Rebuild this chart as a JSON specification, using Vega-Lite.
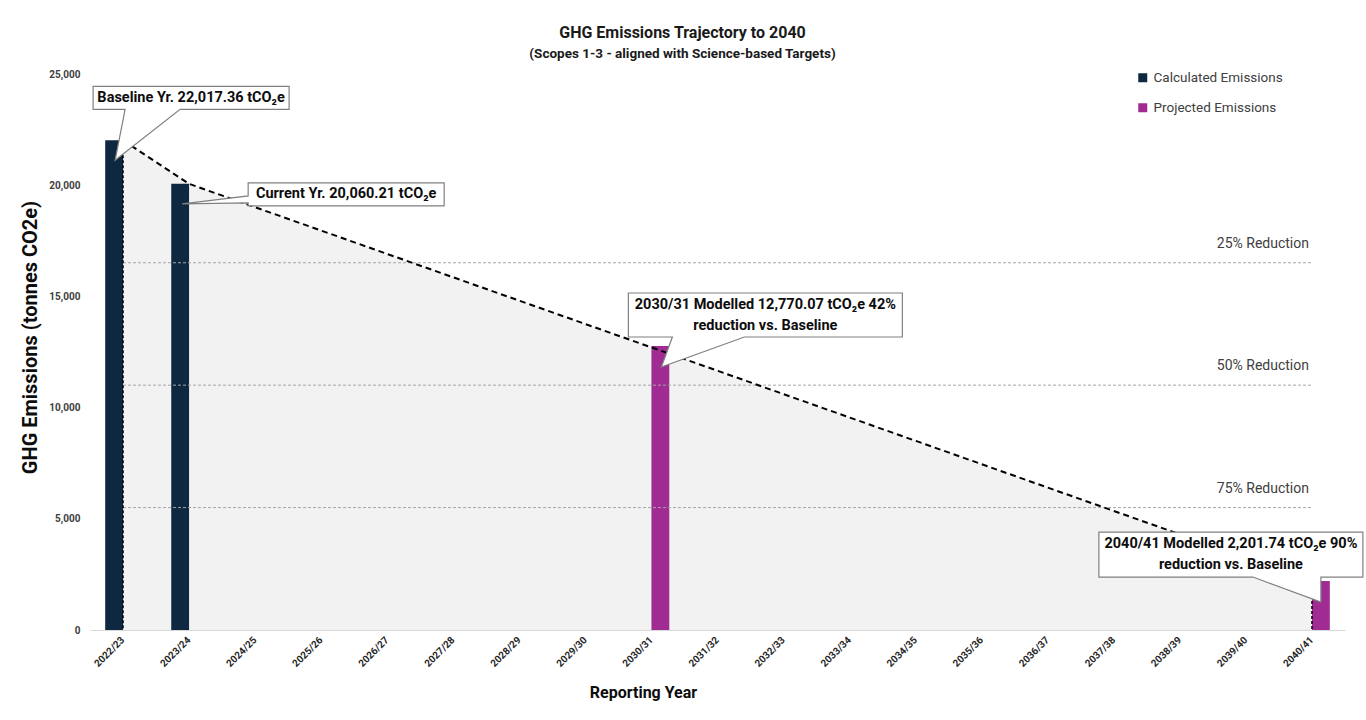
{
  "$schema": "https://vega.github.io/schema/vega-lite/v6.json",
  "width": 1255,
  "height": 556,
  "autosize": "none",
  "padding": {"left": 90, "top": 74, "right": 21, "bottom": 90},
  "background": "white",
  "title": {
    "text": "GHG Emissions Trajectory to 2040",
    "subtitle": "(Scopes 1-3 - aligned with Science-based Targets)",
    "anchor": "middle",
    "dx": -35,
    "offset": 9,
    "font": "Roboto",
    "fontSize": 16,
    "fontWeight": "bold",
    "color": "#1a1a1a",
    "subtitleFont": "Roboto",
    "subtitleFontSize": 13.5,
    "subtitleFontWeight": "bold",
    "subtitleColor": "#1a1a1a",
    "subtitlePadding": 6
  },
  "config": {"view": {"stroke": null}},
  "datasets": {
    "bars": [
      {"year": "2022/23", "series": "Calculated Emissions", "value": 22017.36},
      {"year": "2023/24", "series": "Calculated Emissions", "value": 20060.21},
      {"year": "2030/31", "series": "Projected Emissions", "value": 12770.07},
      {"year": "2040/41", "series": "Projected Emissions", "value": 2201.74}
    ],
    "trajectory": [
      {"year": "2022/23", "traj": 22017.36},
      {"year": "2023/24", "traj": 20060.21},
      {"year": "2040/41", "traj": 2201.74}
    ],
    "reductions": [
      {"label": "25% Reduction", "start": "2022/23", "end": "2040/41", "value": 16513.02},
      {"label": "50% Reduction", "start": "2022/23", "end": "2040/41", "value": 11008.68},
      {"label": "75% Reduction", "start": "2022/23", "end": "2040/41", "value": 5504.34}
    ],
    "callouts": [
      {"id": "base", "year": "2022/23", "series": "Calculated Emissions", "value": 22017.36, "text": "Baseline Yr. 22,017.36 tCO₂e"},
      {"id": "current", "year": "2023/24", "series": "Calculated Emissions", "value": 20060.21, "text": "Current Yr. 20,060.21 tCO₂e"},
      {"id": "m2030", "year": "2030/31", "series": "Projected Emissions", "value": 12770.07, "text": "2030/31 Modelled 12,770.07 tCO₂e 42%\nreduction vs. Baseline"},
      {"id": "m2040", "year": "2040/41", "series": "Projected Emissions", "value": 2201.74, "text": "2040/41 Modelled 2,201.74 tCO₂e 90%\nreduction vs. Baseline"}
    ]
  },
  "layer": [
    {
      "data": {"name": "trajectory"},
      "mark": {"type": "area", "color": "#f2f2f2", "opacity": 1},
      "encoding": {
        "x": {
          "field": "year", "type": "nominal",
          "scale": {
            "type": "band",
            "domain": ["2022/23","2023/24","2024/25","2025/26","2026/27","2027/28","2028/29","2029/30","2030/31","2031/32","2032/33","2033/34","2034/35","2035/36","2036/37","2037/38","2038/39","2039/40","2040/41"],
            "paddingInner": 0.46,
            "paddingOuter": 0.23
          },
          "axis": {
            "title": "Reporting Year",
            "titleFont": "Roboto",
            "titleFontSize": 16,
            "titleFontWeight": "bold",
            "titleColor": "#0d0d0d",
            "titleX": 553,
            "titleY": 62,
            "titleAlign": "center",
            "titleBaseline": "middle",
            "labelAngle": -45,
            "labelAlign": "right",
            "labelBaseline": "middle",
            "labelFont": "Roboto",
            "labelFontSize": 10,
            "labelFontWeight": "bold",
            "labelColor": "#262626",
            "labelPadding": 8,
            "ticks": false,
            "grid": false,
            "domainColor": "#d9d9d9",
            "domainWidth": 1
          }
        },
        "y": {
          "field": "traj", "type": "quantitative",
          "scale": {"domain": [0, 25000], "nice": false},
          "axis": {
            "title": "GHG Emissions (tonnes CO2e)",
            "titleFont": "Roboto",
            "titleFontSize": 20,
            "titleFontWeight": "bold",
            "titleColor": "#0d0d0d",
            "titleX": -60,
            "titleY": 263,
            "titleAngle": -90,
            "titleAlign": "center",
            "titleBaseline": "middle",
            "values": [0, 5000, 10000, 15000, 20000, 25000],
            "format": ",.0f",
            "labelFont": "Roboto",
            "labelFontSize": 10,
            "labelFontWeight": "bold",
            "labelColor": "#404040",
            "labelPadding": 10,
            "ticks": false,
            "domain": false,
            "grid": false
          }
        }
      }
    },
    {
      "data": {"name": "bars"},
      "mark": {"type": "bar"},
      "encoding": {
        "x": {"field": "year", "type": "nominal"},
        "xOffset": {"field": "series", "type": "nominal", "scale": {"domain": ["Calculated Emissions", "Projected Emissions"]}},
        "y": {"field": "value", "type": "quantitative"},
        "color": {
          "field": "series", "type": "nominal",
          "scale": {"domain": ["Calculated Emissions", "Projected Emissions"], "range": ["#0e2841", "#a02b93"]},
          "legend": {
            "orient": "none",
            "legendX": 1046,
            "legendY": -3,
            "title": null,
            "symbolType": "square",
            "symbolSize": 81,
            "symbolStrokeWidth": 0,
            "labelFont": "Roboto",
            "labelFontSize": 13.5,
            "labelColor": "#404040",
            "labelOffset": 4,
            "rowPadding": 15,
            "padding": 0
          }
        }
      }
    },
    {
      "data": {"name": "reductions"},
      "mark": {"type": "rule", "color": "#a6a6a6", "strokeDash": [3, 2], "strokeWidth": 1},
      "encoding": {
        "x": {"field": "start", "type": "nominal"},
        "x2": {"field": "end"},
        "y": {"field": "value", "type": "quantitative"}
      }
    },
    {
      "data": {"name": "reductions"},
      "mark": {"type": "text", "align": "right", "baseline": "middle", "dx": -3, "dy": -19, "font": "Roboto", "fontSize": 14, "color": "#404040"},
      "encoding": {
        "x": {"field": "end", "type": "nominal"},
        "y": {"field": "value", "type": "quantitative"},
        "text": {"field": "label"}
      }
    },
    {
      "data": {"name": "trajectory"},
      "mark": {"type": "line", "color": "#000000", "strokeDash": [6, 4], "strokeWidth": 2},
      "encoding": {
        "x": {"field": "year", "type": "nominal"},
        "y": {"field": "traj", "type": "quantitative"}
      }
    },
    {
      "data": {"name": "trajectory"},
      "transform": [{"filter": "datum.year !== '2023/24'"}],
      "mark": {"type": "rule", "color": "#000000", "strokeDash": [3, 2], "strokeWidth": 1.5},
      "encoding": {
        "x": {"field": "year", "type": "nominal"},
        "y": {"field": "traj", "type": "quantitative"},
        "y2": {"datum": 0}
      }
    },
    {
      "data": {"name": "callouts"},
      "mark": {"type": "point", "filled": true, "fill": "#ffffff", "stroke": "#808080", "strokeWidth": 1.2, "opacity": 1, "fillOpacity": 1, "strokeOpacity": 1, "size": 4},
      "encoding": {
        "x": {"field": "year", "type": "nominal"},
        "xOffset": {"field": "series", "type": "nominal"},
        "y": {"field": "value", "type": "quantitative"},
        "shape": {
          "field": "id", "type": "nominal", "legend": null,
          "scale": {
            "domain": ["base", "current", "m2030", "m2040"],
            "range": [
              "M-21,-54H175V-31H66L1,20L11,-31H-21Z",
              "M68,-1H264V22H68V19L2,20L68,12Z",
              "M-32,-53H242V-9H84L1,21L12,-9H-32Z",
              "M-222,-49H42V-4H0L0,21L-68,-4H-222Z"
            ]
          }
        }
      }
    },
    {
      "data": {"name": "callouts"},
      "transform": [{"filter": "datum.id === 'base'"}],
      "mark": {"type": "text", "align": "center", "baseline": "middle", "dx": 77, "dy": -42.5, "font": "Roboto", "fontSize": 14.5, "fontWeight": "bold", "color": "#0d0d0d"},
      "encoding": {
        "x": {"field": "year", "type": "nominal"},
        "xOffset": {"field": "series", "type": "nominal"},
        "y": {"field": "value", "type": "quantitative"},
        "text": {"field": "text"}
      }
    },
    {
      "data": {"name": "callouts"},
      "transform": [{"filter": "datum.id === 'current'"}],
      "mark": {"type": "text", "align": "center", "baseline": "middle", "dx": 166, "dy": 10.5, "font": "Roboto", "fontSize": 14.5, "fontWeight": "bold", "color": "#0d0d0d"},
      "encoding": {
        "x": {"field": "year", "type": "nominal"},
        "xOffset": {"field": "series", "type": "nominal"},
        "y": {"field": "value", "type": "quantitative"},
        "text": {"field": "text"}
      }
    },
    {
      "data": {"name": "callouts"},
      "transform": [{"filter": "datum.id === 'm2030'"}],
      "mark": {"type": "text", "align": "center", "baseline": "middle", "dx": 105, "dy": -41, "lineBreak": "\n", "lineHeight": 21, "font": "Roboto", "fontSize": 14.5, "fontWeight": "bold", "color": "#0d0d0d"},
      "encoding": {
        "x": {"field": "year", "type": "nominal"},
        "xOffset": {"field": "series", "type": "nominal"},
        "y": {"field": "value", "type": "quantitative"},
        "text": {"field": "text"}
      }
    },
    {
      "data": {"name": "callouts"},
      "transform": [{"filter": "datum.id === 'm2040'"}],
      "mark": {"type": "text", "align": "center", "baseline": "middle", "dx": -90, "dy": -37, "lineBreak": "\n", "lineHeight": 21, "font": "Roboto", "fontSize": 14.5, "fontWeight": "bold", "color": "#0d0d0d"},
      "encoding": {
        "x": {"field": "year", "type": "nominal"},
        "xOffset": {"field": "series", "type": "nominal"},
        "y": {"field": "value", "type": "quantitative"},
        "text": {"field": "text"}
      }
    }
  ]
}
